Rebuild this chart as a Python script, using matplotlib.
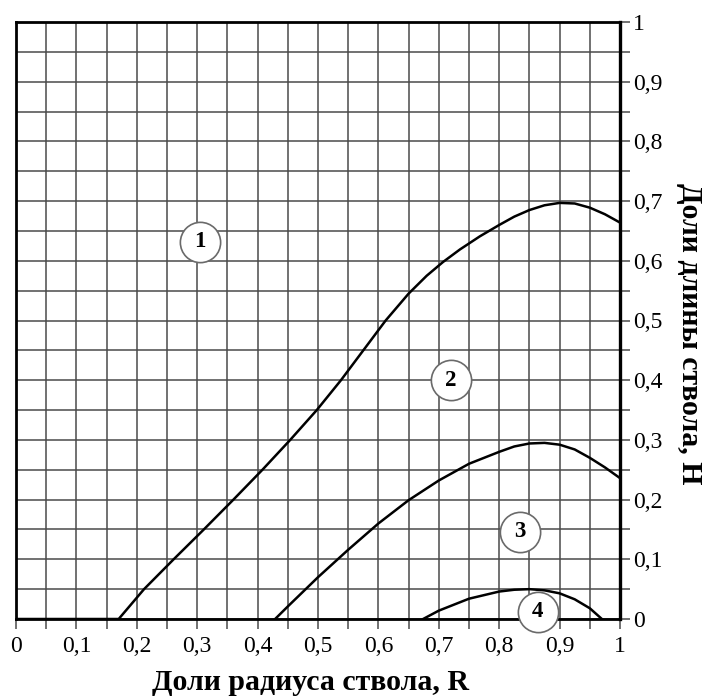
import matplotlib
matplotlib.use("Agg")
import matplotlib.pyplot as plt
import numpy as np

# curve 1: boundary of zones 1 and 2
curve1_r = [0.0, 0.17, 0.212, 0.261, 0.311, 0.36, 0.408, 0.454, 0.498, 0.538, 0.575, 0.612,
            0.65, 0.68, 0.707, 0.735, 0.768, 0.80, 0.825, 0.85, 0.875, 0.90, 0.925, 0.95,
            0.975, 1.0]
curve1_h = [0.0, 0.0, 0.05, 0.10, 0.15, 0.20, 0.25, 0.30, 0.35, 0.40, 0.45, 0.50,
            0.545, 0.575, 0.598, 0.619, 0.641, 0.66, 0.674, 0.685, 0.693, 0.697, 0.696, 0.689,
            0.678, 0.664]

# curve 2: boundary of zones 2 and 3
curve2_r = [0.429, 0.45, 0.50, 0.55, 0.60, 0.65, 0.70, 0.75, 0.80, 0.825, 0.85, 0.875,
            0.90, 0.925, 0.95, 0.975, 1.0]
curve2_h = [0.0, 0.021, 0.07, 0.116, 0.16, 0.199, 0.232, 0.26, 0.28, 0.289, 0.294, 0.295,
            0.292, 0.284, 0.27, 0.254, 0.236]

# curve 3: boundary of zones 3 and 4
curve3_r = [0.674, 0.70, 0.75, 0.80, 0.825, 0.85, 0.875, 0.90, 0.925, 0.95, 0.97]
curve3_h = [0.0, 0.014, 0.034, 0.046, 0.049, 0.05, 0.048, 0.043, 0.033, 0.018, 0.0]

# zone markers
zone_labels = ["1", "2", "3", "4"]
zone_r = [0.305, 0.72, 0.834, 0.864]
zone_h = [0.632, 0.40, 0.146, 0.012]

major_ticks = [0, 0.1, 0.2, 0.3, 0.4, 0.5, 0.6, 0.7, 0.8, 0.9, 1.0]
tick_labels = ["0", "0,1", "0,2", "0,3", "0,4", "0,5", "0,6", "0,7", "0,8", "0,9", "1"]
grid_step = 0.05

serif = ["Liberation Serif", "DejaVu Serif"]
plt.rcParams["font.family"] = serif

fig = plt.figure(figsize=(7.07, 7.0), dpi=100)
ax = fig.add_axes([16 / 707, 81 / 700, 604 / 707, 597 / 700])

# grid (every 0.05)
grid = np.arange(0, 1.0001, grid_step)
for g in grid:
    ax.axvline(g, color="#4a4a4a", lw=1.1, zorder=1)
    ax.axhline(g, color="#4a4a4a", lw=1.1, zorder=1)

for r, h in [(curve1_r, curve1_h), (curve2_r, curve2_h), (curve3_r, curve3_h)]:
    ax.plot(r, h, color="black", lw=1.8, zorder=3, solid_joinstyle="round")

ax.set_xlim(0, 1)
ax.set_ylim(0, 1)

# ticks: minor every 0.05 without labels, major every 0.1 with labels
ax.set_xticks(grid, minor=True)
ax.set_yticks(grid, minor=True)
ax.set_xticks(major_ticks)
ax.set_xticklabels(tick_labels)
ax.set_yticks(major_ticks)
ax.set_yticklabels(tick_labels)
ax.yaxis.tick_right()
ax.tick_params(axis="both", which="both", direction="out", length=7.5, width=1.1,
               color="#4a4a4a", labelsize=17)
ax.tick_params(axis="x", which="both", pad=5)
ax.tick_params(axis="y", which="both", pad=2)

for side in ["left", "top", "bottom"]:
    ax.spines[side].set_linewidth(2.0)
ax.spines["right"].set_linewidth(2.4)

for lab, r, h in zip(zone_labels, zone_r, zone_h):
    ax.plot(r, h, marker="o", ms=29, mfc="white", mec="#6a6a6a", mew=1.2,
            zorder=5, clip_on=False)
    ax.text(r, h, lab, ha="center", va="center", fontsize=16.5, fontweight="bold",
            zorder=6, clip_on=False)

fig.text(310 / 707, 1 - 683 / 700, "Доли радиуса ствола, R", ha="center", va="center",
         fontsize=21.5, fontweight="bold")
fig.text(690 / 707, 1 - 334 / 700, "Доли длины ствола, H", ha="center", va="center",
         rotation=270, fontsize=21.5, fontweight="bold")

fig.savefig("out.png", dpi=100)
